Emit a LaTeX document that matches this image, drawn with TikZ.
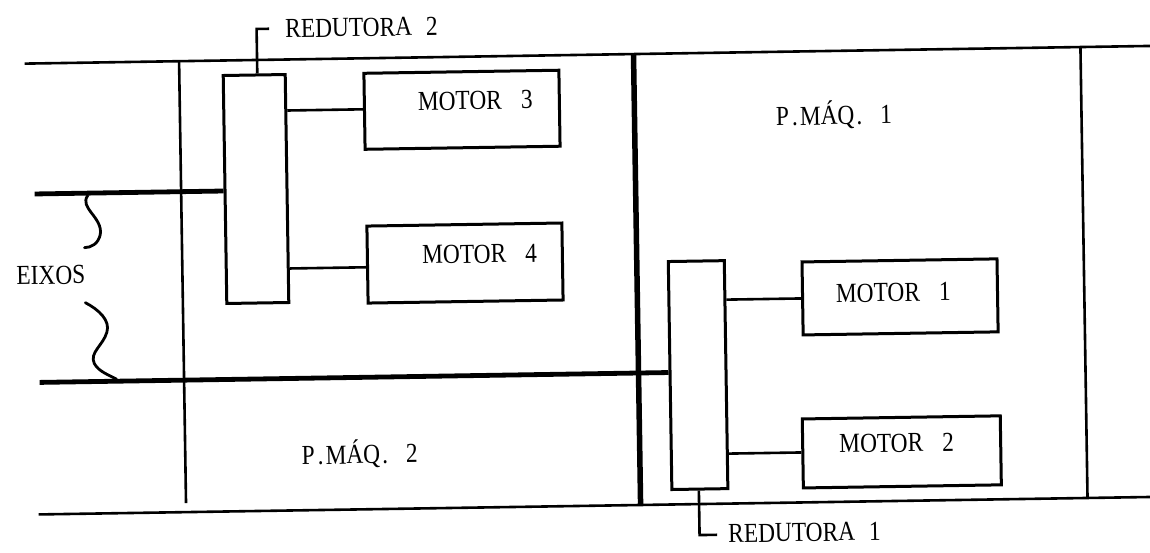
\documentclass[tikz,border=0pt]{standalone}
\usepackage{fontspec}
\setmainfont[FakeStretch=0.85]{Liberation Serif}
\usetikzlibrary{calc}
\begin{document}
\begin{tikzpicture}[x=1pt,y=-1pt,
  thinline/.style={line width=2.6pt},
  boxed/.style={draw,line width=3pt,rectangle,inner sep=0pt},
  shaft/.style={line width=4.8pt},
  divider/.style={line width=2.6pt},
  heavydivider/.style={line width=5.5pt},
  lbl/.style={font=\fontsize{27.5}{30}\selectfont,inner sep=0pt},
  wave/.style={line width=2.8pt,line cap=round}]
\useasboundingbox[fill=white] (0,0) rectangle (1150,552);
\begin{scope}[rotate around={0.9:(575,276)},transform shape]
  % frame lines
  \coordinate (tl) at (28,55);
  \coordinate (tr) at (1175,55);
  \coordinate (bl) at (35,506);
  \coordinate (br) at (1175,506);
  \draw[divider] (tl) -- (tr);
  \draw[divider] (bl) -- (br);
  % vertical dividers
  \coordinate (v1t) at (182.5,55);
  \coordinate (v1b) at (182.5,497);
  \coordinate (v2t) at (637,55);
  \coordinate (v2b) at (637,506);
  \coordinate (v3t) at (1084,55);
  \coordinate (v3b) at (1084,506);
  \draw[divider] (v1t) -- (v1b);
  \draw[heavydivider] (v2t) -- (v2b);
  \draw[divider] (v3t) -- (v3b);
  % boxes
  \node[boxed,minimum width=62pt,minimum height=228pt] (r2) at (257.4,184) {};
  \node[boxed,minimum width=56pt,minimum height=228pt] (r1) at (696.5,377) {};
  \node[boxed,minimum width=195pt,minimum height=76pt] (m3) at (464.6,108) {};
  \node[boxed,minimum width=195pt,minimum height=77pt] (m4) at (465.2,261.3) {};
  \node[boxed,minimum width=195pt,minimum height=73pt] (m1) at (899.7,302) {};
  \node[boxed,minimum width=198pt,minimum height=69pt] (m2) at (899,457) {};
  % connectors
  \coordinate (c3) at (0,106);
  \coordinate (c4) at (0,264);
  \coordinate (c1) at (0,302);
  \coordinate (c2) at (0,456);
  \draw[thinline] (r2.east |- c3) -- (m3.west |- c3);
  \draw[thinline] (r2.east |- c4) -- (m4.west |- c4);
  \draw[thinline] (r1.east |- c1) -- (m1.west |- c1);
  \draw[thinline] (r1.east |- c2) -- (m2.west |- c2);
  % shafts
  \coordinate (s1) at (36,185.5);
  \coordinate (s2) at (38,374);
  \draw[shaft] (s1) -- (r2.west |- s1);
  \draw[shaft] (s2) -- (r1.west |- s2);
  % wavy pointers
  \coordinate (w1a) at (89,188);
  \coordinate (w1b) at (101,227);
  \coordinate (w1c) at (85,240);
  \draw[wave] (w1a) .. controls (80,200) and (104,210) .. (w1b) .. controls (99,236) and (92,240) .. (w1c);
  \coordinate (w2a) at (85,295);
  \coordinate (w2b) at (106,325);
  \coordinate (w2c) at (93,356);
  \coordinate (w2d) at (115,372);
  \draw[wave] (w2a) .. controls (98,302) and (110,313) .. (w2b) .. controls (102,338) and (88,345) .. (w2c) .. controls (97,364) and (108,368) .. (w2d);
  % leaders
  \coordinate (l2a) at (260.5,24);
  \coordinate (l2b) at (273,24);
  \draw[thinline] (r2.north -| l2a) -- (l2a) -- (l2b);
  \coordinate (l1a) at (695.5,537);
  \coordinate (l1b) at (713,537);
  \draw[thinline] (r1.south -| l1a) -- (l1a) -- (l1b);
  % labels
  \node[lbl] (t3) at (478,99) {MOTOR\hspace{19pt}3};
  \node[lbl] (t4) at (480,252.5) {MOTOR\hspace{19pt}4};
  \node[lbl] (t1) at (893,297.5) {MOTOR\hspace{19pt}1};
  \node[lbl] (t2) at (894,448) {MOTOR\hspace{19pt}2};
  \node[lbl] (p1) at (836.5,119) {P\kern3pt.\kern2pt MÁQ\kern2pt.\hspace{18pt}1};
  \node[lbl] (p2) at (357,450.6) {P\kern3pt.\kern2pt MÁQ\kern2pt.\hspace{18pt}2};
  \node[lbl] (ex) at (51,267) {EIXOS};
  \node[lbl,anchor=west] (tr2) at (289,24) {REDUTORA\hspace{14pt}2};
  \node[lbl,anchor=west] (tr1) at (724,536) {REDUTORA\hspace{14pt}1};
\end{scope}
\end{tikzpicture}
\end{document}
